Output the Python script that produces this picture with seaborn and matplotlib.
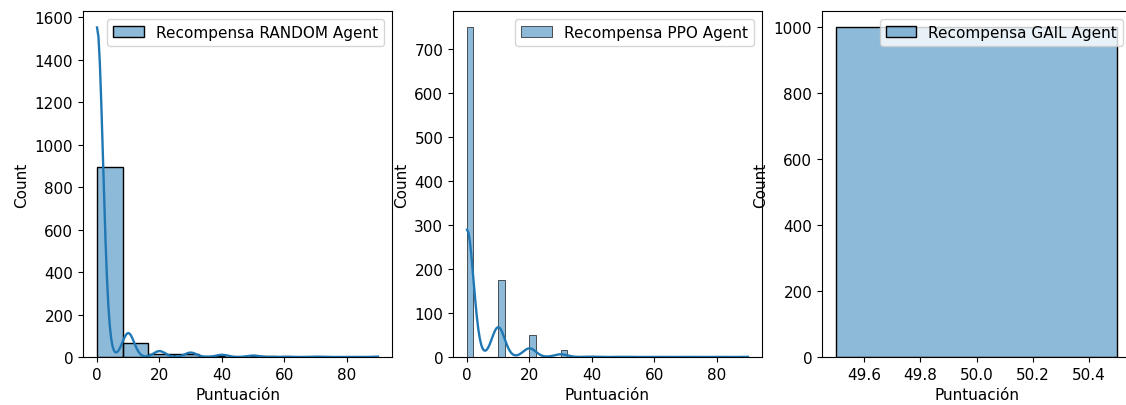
import numpy as np
import pandas as pd
import matplotlib
matplotlib.use("Agg")
import matplotlib.pyplot as plt
import seaborn as sns

# Score values and how many episodes got each one
random_scores = [0, 10, 20, 30, 40, 50, 60, 70, 90]
random_counts = [894, 65, 16, 12, 6, 4, 1, 1, 1]

ppo_scores = [0, 10, 20, 30, 40, 50, 60, 70, 80, 90]
ppo_counts = [750, 176, 51, 16, 2, 1, 1, 1, 1, 1]

gail_scores = [50]
gail_counts = [1000]

agents = ["RANDOM", "PPO", "GAIL"]
bins = [11, 45, "auto"]

data = {
    "RANDOM": np.repeat(random_scores, random_counts),
    "PPO": np.repeat(ppo_scores, ppo_counts),
    "GAIL": np.repeat(gail_scores, gail_counts),
}

plt.rcParams["font.size"] = 11

W, H = 1126, 406
fig = plt.figure(figsize=(W / 100, H / 100), dpi=100)
lefts = [83, 453, 822]
axes = [fig.add_axes([l / W, (H - 358) / H, 309 / W, 346 / H]) for l in lefts]

for ax, agent, b in zip(axes, agents, bins):
    df = pd.DataFrame({"Puntuación": data[agent]})
    sns.histplot(
        data=df, x="Puntuación", bins=b, kde=True, ax=ax,
        label=f"Recompensa {agent} Agent", line_kws={"linewidth": 1.7},
    )
    ax.set_ylabel("Count")
    ax.legend(loc="upper right")

fig.savefig("out.png", dpi=100)
